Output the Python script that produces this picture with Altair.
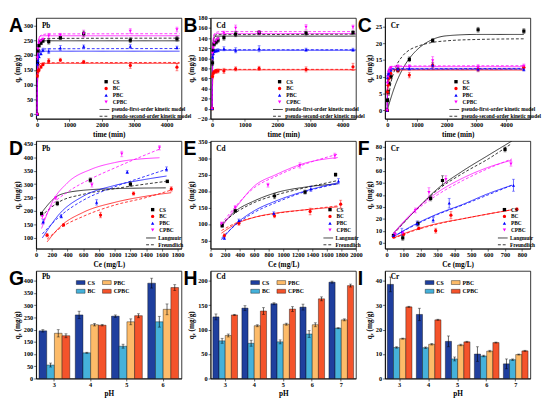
import altair as alt
import pandas as pd

SERIES = ["CS", "BC", "PBC", "CPBC"]
PT_COLORS = ["#000000", "#FF0000", "#0000FF", "#FF00FF"]
PT_SHAPES = ["square", "circle", "triangle-up", "triangle-down"]
BAR_COLORS = ["#1F3F9E", "#45B1DA", "#FDBB69", "#F4532B"]
KIN_MODELS = ["pseudo-first-order kinetic model", "pseudo-second-order kinetic model"]
ISO_MODELS = ["Langmuir", "Freundlich"]

# ---------------- A: Pb kinetics ----------------
T_AB = [0, 10, 30, 60, 120, 180, 360, 720, 1440, 2880, 4320]
A_CS = [0, 175, 215, 232, 240, 248, 245, 258, 272, 250, 255]
A_BC = [0, 130, 145, 150, 160, 168, 180, 183, 177, 165, 159]
A_PBC = [0, 170, 180, 195, 205, 217, 213, 224, 229, 229, 225]
A_CPBC = [0, 190, 220, 240, 248, 253, 265, 267, 272, 281, 286]
A_CS_E = [0, 6, 6, 5, 5, 6, 8, 5, 8, 8, 8]
A_BC_E = [0, 6, 6, 5, 5, 4, 8, 6, 5, 10, 12]
A_PBC_E = [0, 6, 5, 5, 5, 6, 8, 8, 5, 6, 5]
A_CPBC_E = [0, 6, 6, 5, 5, 5, 8, 6, 12, 8, 8]
T_FIT = [0, 15, 40, 80, 150, 300, 4400]
A_CS_F1 = [0, 150, 225, 245, 248, 248, 248]
A_CS_F2 = [0, 170, 235, 250, 254, 256, 257]
A_BC_F1 = [0, 105, 155, 170, 172, 172, 172]
A_BC_F2 = [0, 115, 158, 170, 173, 174, 175]
A_PBC_F1 = [0, 130, 195, 210, 213, 213, 213]
A_PBC_F2 = [0, 145, 200, 214, 219, 221, 222]
A_CPBC_F1 = [0, 165, 240, 262, 265, 265, 265]
A_CPBC_F2 = [0, 175, 245, 263, 268, 271, 272]

# ---------------- B: Cd kinetics ----------------
B_CS = [0, 91, 115, 128, 132, 136, 141, 148, 151, 150, 151]
B_BC = [0, 64, 70, 73, 74, 75, 75, 79, 80, 78, 83]
B_PBC = [0, 103, 110, 114, 115, 116, 119, 116, 119, 117, 117]
B_CPBC = [0, 110, 120, 130, 135, 138, 150, 160, 151, 162, 162]
B_CS_E = [0, 5, 4, 4, 4, 5, 5, 5, 4, 4, 4]
B_BC_E = [0, 3, 3, 3, 4, 4, 5, 4, 4, 5, 7]
B_PBC_E = [0, 4, 3, 3, 3, 3, 4, 5, 6, 3, 3]
B_CPBC_E = [0, 4, 4, 4, 4, 4, 4, 6, 4, 5, 4]
B_CS_F1 = [0, 100, 135, 143, 144, 144, 144]
B_CS_F2 = [0, 105, 138, 145, 147, 147, 148]
B_BC_F1 = [0, 55, 73, 77, 77, 77, 77]
B_BC_F2 = [0, 58, 74, 77, 78, 78, 78]
B_PBC_F1 = [0, 85, 110, 115, 116, 116, 116]
B_PBC_F2 = [0, 90, 112, 116, 117, 117, 117]
B_CPBC_F1 = [0, 105, 140, 148, 149, 149, 149]
B_CPBC_F2 = [0, 110, 143, 150, 152, 153, 153]

# ---------------- C: Cr kinetics ----------------
T_C = [0, 10, 30, 60, 120, 360, 745, 1530, 3060, 4600]
C_CS = [0, 3.0, 5.5, 8.0, 10.0, 12.0, 15.2, 20.8, 24.0, 23.6]
C_BC = [0, 5.5, 7.5, 9.5, 11.0, 12.0, 10.5, 13.5, 12.3, 12.8]
C_PBC = [0, 9.8, 10.5, 11.0, 12.0, 12.3, 12.5, 13.5, 12.3, 12.2]
C_CPBC = [0, 8.0, 10.0, 11.5, 12.5, 13.0, 13.0, 14.8, 12.8, 13.2]
C_CS_E = [0, 0.5, 0.5, 0.5, 0.5, 0.5, 0.7, 0.6, 0.7, 0.7]
C_BC_E = [0, 0.8, 0.8, 0.8, 0.8, 0.8, 0.8, 0.8, 0.8, 0.5]
C_PBC_E = [0, 0.5, 0.5, 0.5, 0.5, 0.5, 0.5, 0.6, 0.6, 0.5]
C_CPBC_E = [0, 0.6, 0.6, 0.6, 0.6, 0.6, 0.6, 1.2, 0.8, 0.6]
T_FIT_C = [0, 15, 40, 80, 150, 300, 4600]
T_FIT_C_CS = [0, 100, 250, 500, 750, 1000, 1500, 2000, 3000, 4600]
C_CS_F1 = [0, 3.0, 7.0, 12.0, 15.5, 18.0, 21.0, 22.2, 22.6, 22.6]
C_CS_F2 = [0, 7.0, 12.0, 16.0, 18.0, 19.0, 20.2, 20.7, 21.1, 21.3]
C_BC_F1 = [0, 6.5, 10.5, 11.8, 12.0, 12.0, 12.0]
C_BC_F2 = [0, 7.0, 10.5, 11.8, 12.1, 12.2, 12.3]
C_PBC_F1 = [0, 9.5, 11.8, 12.2, 12.3, 12.3, 12.3]
C_PBC_F2 = [0, 9.8, 11.8, 12.3, 12.4, 12.4, 12.5]
C_CPBC_F1 = [0, 8.5, 12.0, 12.9, 13.0, 13.0, 13.0]
C_CPBC_F2 = [0, 9.0, 12.0, 12.9, 13.1, 13.2, 13.3]

# ---------------- D: Pb isotherm ----------------
D_CS_X = [70, 270, 690, 1200, 1670]
D_CS = [190, 228, 315, 300, 310]
D_BC_X = [140, 350, 820, 1240, 1720]
D_BC = [110, 148, 185, 265, 282]
D_PBC_X = [90, 320, 770, 1160, 1660]
D_PBC = [160, 180, 232, 345, 356]
D_CPBC_X = [80, 250, 710, 1090, 1570]
D_CPBC = [180, 248, 297, 412, 435]
D_CS_E = [6, 8, 8, 8, 5]
D_BC_E = [6, 4, 10, 6, 8]
D_PBC_E = [8, 6, 10, 5, 8]
D_CPBC_E = [8, 5, 8, 10, 8]
D_CS_FX = [60, 300, 600, 1000, 1650]
D_CS_F1 = [190, 260, 277, 283, 286]
D_CS_F2 = [180, 235, 262, 283, 310]
D_BC_FX = [140, 300, 600, 1000, 1400, 1720]
D_BC_F1 = [85, 140, 195, 232, 255, 268]
D_BC_F2 = [95, 135, 180, 222, 250, 278]
D_PBC_FX = [80, 300, 600, 1000, 1400, 1660]
D_PBC_F1 = [100, 190, 255, 295, 318, 330]
D_PBC_F2 = [115, 180, 240, 290, 330, 355]
D_CPBC_FX = [70, 200, 400, 700, 1000, 1570]
D_CPBC_F1 = [135, 230, 305, 355, 380, 398]
D_CPBC_F2 = [150, 220, 270, 320, 360, 430]

# ---------------- E: Cd isotherm ----------------
E_CS_X = [160, 340, 880, 1300, 1720]
E_CS = [95, 140, 185, 197, 250]
E_BC_X = [190, 390, 880, 1370, 1790]
E_BC = [65, 102, 125, 138, 160]
E_PBC_X = [190, 390, 870, 1380, 1760]
E_PBC = [57, 110, 132, 207, 230]
E_CPBC_X = [150, 340, 790, 1230, 1710]
E_CPBC = [100, 150, 218, 278, 307]
E_CS_E = [5, 5, 8, 6, 5]
E_BC_E = [5, 6, 6, 10, 12]
E_PBC_E = [4, 5, 5, 8, 8]
E_CPBC_E = [6, 6, 6, 8, 8]
E_FX = [150, 350, 600, 900, 1300, 1750]
E_CS_F1 = [95, 140, 170, 195, 212, 222]
E_CS_F2 = [100, 135, 165, 188, 210, 232]
E_BC_F1 = [72, 100, 120, 133, 143, 152]
E_BC_F2 = [80, 103, 120, 132, 143, 155]
E_PBC_F1 = [52, 100, 140, 170, 200, 225]
E_PBC_F2 = [57, 98, 135, 165, 198, 222]
E_CPBC_F1 = [90, 150, 215, 250, 285, 302]
E_CPBC_F2 = [100, 155, 210, 245, 282, 312]

# ---------------- F: Cr isotherm ----------------
F_CS_X = [40, 95, 185, 260, 330, 700]
F_CS = [6, 4, 16, 37, 52, 78]
F_BC_X = [40, 100, 190, 290, 380, 770]
F_BC = [5, 7, 12, 10, 23, 28]
F_PBC_X = [40, 90, 180, 275, 370, 750]
F_PBC = [6, 9, 16, 19, 33, 48]
F_CPBC_X = [50, 95, 170, 250, 350, 735]
F_CPBC = [7, 8, 27, 42, 53, 66]
F_CS_E = [1, 2, 2, 2, 4, 2]
F_BC_E = [1, 1, 1, 2, 3, 1]
F_PBC_E = [1, 3, 2, 2, 4, 5]
F_CPBC_E = [1, 1, 2, 4, 3, 2]
F_FX = [40, 150, 300, 450, 600, 740]
F_CS_F1 = [8, 24, 45, 60, 73, 85]
F_CS_F2 = [7, 24, 44, 58, 70, 83]
F_BC_F1 = [4, 10, 16, 20, 24, 27.5]
F_BC_F2 = [3.5, 9.5, 15.5, 20, 24, 27.5]
F_PBC_F1 = [5, 14, 24, 32, 41, 48]
F_PBC_F2 = [5, 13.5, 23.5, 31.5, 40, 48]
F_CPBC_F1 = [8, 25, 42, 54, 63, 69]
F_CPBC_F2 = [7, 24, 40, 52, 62, 70]

# ---------------- G/H/I: pH bars ----------------
G_PH = [3, 4, 5, 6]
G_CS = [195, 260, 255, 390]
G_BC = [55, 105, 132, 232]
G_PBC = [185, 220, 232, 283]
G_CPBC = [175, 218, 257, 372]
G_CS_E = [5, 15, 5, 20]
G_BC_E = [8, 2, 8, 22]
G_PBC_E = [15, 5, 12, 22]
G_CPBC_E = [8, 3, 8, 12]

H_PH = [3, 4, 5, 6, 7]
H_CS = [126, 144, 153, 146, 197]
H_BC = [77, 72, 75, 91, 103]
H_PBC = [88, 108, 111, 110, 120]
H_CPBC = [130, 138, 142, 163, 190]
H_CS_E = [6, 5, 2, 6, 2]
H_BC_E = [5, 6, 4, 7, 1]
H_PBC_E = [3, 2, 2, 4, 2]
H_CPBC_E = [1, 7, 5, 4, 3]

I_PH = [3, 4, 5, 6, 7]
I_CS = [38.5, 26.2, 15.2, 10.0, 6.0]
I_BC = [12.7, 12.6, 8.0, 9.2, 7.7]
I_PBC = [16.3, 14.0, 13.7, 11.2, 9.8]
I_CPBC = [29.3, 24.0, 15.0, 14.7, 11.3]
I_CS_E = [3.0, 2.5, 2.2, 3.0, 2.0]
I_BC_E = [0.3, 0.3, 0.8, 0.3, 0.3]
I_PBC_E = [0.2, 0.3, 0.3, 0.3, 0.2]
I_CPBC_E = [0.2, 0.2, 0.2, 0.2, 0.2]

SERIF = "Liberation Serif"
SANS = "Liberation Sans"
W = 150
H1, H2, H3 = 104, 111, 111
YTITLE = "qₑ (mg/g)"


def pts_frame(xlists, ylists, elists):
    rows = []
    for s, xs, ys, es in zip(SERIES, xlists, ylists, elists):
        for x, y, e in zip(xs, ys, es):
            rows.append({"x": x, "y": y, "lo": y - e, "hi": y + e, "series": s})
    return pd.DataFrame(rows)


def fit_frame(models, entries):
    rows = []
    for s, xs, y1, y2 in entries:
        for m, ys in zip(models, [y1, y2]):
            for x, y in zip(xs, ys):
                rows.append({"x": x, "y": y, "series": s, "model": m})
    return pd.DataFrame(rows)


def text_layers(letter, metal, metal_y):
    lt = alt.Chart(pd.DataFrame({"t": [letter]})).mark_text(
        font=SANS, fontWeight="bold", fontSize=20, align="left", baseline="top"
    ).encode(text="t:N", x=alt.value(-28), y=alt.value(-2))
    mt = alt.Chart(pd.DataFrame({"t": [metal]})).mark_text(
        font=SERIF, fontWeight="bold", fontSize=7.5, align="left", baseline="middle"
    ).encode(text="t:N", x=alt.value(6), y=alt.value(metal_y))
    return [lt, mt]


def line_panel(letter, metal, pts, fits, xdom, xticks, ydom, yticks, xtitle, models, h,
               lab_x, pts_up, dash_up, dash_pad):
    xsc = alt.Scale(domain=xdom, nice=False, zero=False)
    ysc = alt.Scale(domain=ydom, nice=False, zero=False)
    xax = alt.Axis(values=xticks, title=xtitle, format="d")
    yax = alt.Axis(values=yticks, title=YTITLE, format="d")

    def X(f):
        return alt.X(f, type="quantitative", scale=xsc, axis=xax)

    def Y(f):
        return alt.Y(f, type="quantitative", scale=ysc, axis=yax)

    # stroke scale lists the series in reverse so that its (hidden) legend is not merged with the point legend
    stroke = alt.Stroke("series:N", scale=alt.Scale(domain=SERIES[::-1], range=PT_COLORS[::-1]), legend=None)
    leg_pts = alt.Legend(title=None, orient="none", legendX=lab_x - 7.5, legendY=h - pts_up,
                         labelFontSize=5.5, symbolSize=12, rowPadding=0, padding=0,
                         labelOffset=4, symbolStrokeWidth=0)
    leg_dash = alt.Legend(title=None, orient="none", legendX=lab_x - 9.5, legendY=h - dash_up,
                          labelFontSize=5.5, symbolType="M-2,0H2", symbolSize=25,
                          symbolStrokeColor="black", symbolStrokeWidth=0.8, rowPadding=dash_pad,
                          padding=0, labelOffset=4.5)
    lines = alt.Chart(fits).mark_line(strokeWidth=0.8, interpolate="monotone", clip=True).encode(
        x=X("x"), y=Y("y"), stroke=stroke,
        strokeDash=alt.StrokeDash("model:N", scale=alt.Scale(domain=models, range=[[1, 0], [3, 2]]),
                                  legend=leg_dash),
        detail="series:N",
    )
    base = alt.Chart(pts)
    rules = base.mark_rule(strokeWidth=0.6, clip=True).encode(x=X("x"), y=Y("lo"), y2="hi:Q", stroke=stroke)
    cap_lo = base.mark_point(shape="stroke", size=9, strokeWidth=0.6, clip=True).encode(
        x=X("x"), y=Y("lo"), stroke=stroke)
    cap_hi = base.mark_point(shape="stroke", size=9, strokeWidth=0.6, clip=True).encode(
        x=X("x"), y=Y("hi"), stroke=stroke)
    points = base.mark_point(filled=True, size=11, opacity=1, clip=True).encode(
        x=X("x"), y=Y("y"),
        color=alt.Color("series:N", scale=alt.Scale(domain=SERIES, range=PT_COLORS), legend=leg_pts),
        shape=alt.Shape("series:N", scale=alt.Scale(domain=SERIES, range=PT_SHAPES), legend=leg_pts),
    )
    return alt.layer(lines, rules, cap_lo, cap_hi, points, *text_layers(letter, metal, 8)).properties(
        width=W, height=h)


def bar_panel(letter, metal, phs, vals, errs, ydom, yticks, h):
    rows = []
    for s, vs, es in zip(SERIES, vals, errs):
        for p, v, e in zip(phs, vs, es):
            rows.append({"pH": p, "sample": s, "q": v, "lo": v - e, "hi": v + e})
    df = pd.DataFrame(rows)
    xenc = alt.X("pH:O", scale=alt.Scale(paddingInner=0.15, paddingOuter=0.08),
                 axis=alt.Axis(title="pH", labelAngle=0))
    xo = alt.XOffset("sample:N", scale=alt.Scale(domain=SERIES, paddingInner=0, paddingOuter=0))
    ysc = alt.Scale(domain=ydom, nice=False, zero=True)
    yax = alt.Axis(values=yticks, title=YTITLE, format="d")
    leg = alt.Legend(title=None, orient="none", legendX=41, legendY=7, columns=2,
                     symbolType="M-1,-0.45H1V0.45H-1Z", symbolSize=81, symbolStrokeColor="black",
                     symbolStrokeWidth=0.4, labelFontSize=6, columnPadding=5, rowPadding=1,
                     padding=0, labelOffset=2)
    base = alt.Chart(df)
    bars = base.mark_bar(stroke="black", strokeWidth=0.4).encode(
        x=xenc, xOffset=xo, y=alt.Y("q:Q", scale=ysc, axis=yax),
        color=alt.Color("sample:N", scale=alt.Scale(domain=SERIES, range=BAR_COLORS), legend=leg),
    )
    rules = base.mark_rule(color="black", strokeWidth=0.6).encode(
        x=xenc, xOffset=xo, y=alt.Y("lo:Q", scale=ysc, axis=yax), y2="hi:Q")
    cap_lo = base.mark_point(shape="stroke", size=9, strokeWidth=0.6, color="black").encode(
        x=xenc, xOffset=xo, y=alt.Y("lo:Q", scale=ysc, axis=yax))
    cap_hi = base.mark_point(shape="stroke", size=9, strokeWidth=0.6, color="black").encode(
        x=xenc, xOffset=xo, y=alt.Y("hi:Q", scale=ysc, axis=yax))
    return alt.layer(bars, rules, cap_lo, cap_hi, *text_layers(letter, metal, 6)).properties(
        width=W, height=h)


KIN_LEG = dict(pts_up=41, dash_up=12.6, dash_pad=0)
ISO_LEG = dict(pts_up=43, dash_up=14, dash_pad=0)

pA = line_panel("A", "Pb",
                pts_frame([T_AB] * 4, [A_CS, A_BC, A_PBC, A_CPBC], [A_CS_E, A_BC_E, A_PBC_E, A_CPBC_E]),
                fit_frame(KIN_MODELS, [("CS", T_FIT, A_CS_F1, A_CS_F2), ("BC", T_FIT, A_BC_F1, A_BC_F2),
                                       ("PBC", T_FIT, A_PBC_F1, A_PBC_F2), ("CPBC", T_FIT, A_CPBC_F1, A_CPBC_F2)]),
                [-30, 4460], [0, 1000, 2000, 3000, 4000], [-15, 325], list(range(0, 301, 50)),
                "time (min)", KIN_MODELS, H1, 77, **KIN_LEG)
pB = line_panel("B", "Cd",
                pts_frame([T_AB] * 4, [B_CS, B_BC, B_PBC, B_CPBC], [B_CS_E, B_BC_E, B_PBC_E, B_CPBC_E]),
                fit_frame(KIN_MODELS, [("CS", T_FIT, B_CS_F1, B_CS_F2), ("BC", T_FIT, B_BC_F1, B_BC_F2),
                                       ("PBC", T_FIT, B_PBC_F1, B_PBC_F2), ("CPBC", T_FIT, B_CPBC_F1, B_CPBC_F2)]),
                [-50, 4410], [0, 1000, 2000, 3000, 4000], [-20, 180], list(range(-20, 181, 20)),
                "time (min)", KIN_MODELS, H1, 76, **KIN_LEG)
pC = line_panel("C", "Cr",
                pts_frame([T_C] * 4, [C_CS, C_BC, C_PBC, C_CPBC], [C_CS_E, C_BC_E, C_PBC_E, C_CPBC_E]),
                fit_frame(KIN_MODELS, [("CS", T_FIT_C_CS, C_CS_F1, C_CS_F2), ("BC", T_FIT_C, C_BC_F1, C_BC_F2),
                                       ("PBC", T_FIT_C, C_PBC_F1, C_PBC_F2), ("CPBC", T_FIT_C, C_CPBC_F1, C_CPBC_F2)]),
                [-75, 4820], [0, 1000, 2000, 3000, 4000], [-2.5, 27.5], list(range(0, 26, 5)),
                "time (min)", KIN_MODELS, H1, 78, **KIN_LEG)
pD = line_panel("D", "Pb",
                pts_frame([D_CS_X, D_BC_X, D_PBC_X, D_CPBC_X], [D_CS, D_BC, D_PBC, D_CPBC],
                          [D_CS_E, D_BC_E, D_PBC_E, D_CPBC_E]),
                fit_frame(ISO_MODELS, [("CS", D_CS_FX, D_CS_F1, D_CS_F2), ("BC", D_BC_FX, D_BC_F1, D_BC_F2),
                                       ("PBC", D_PBC_FX, D_PBC_F1, D_PBC_F2), ("CPBC", D_CPBC_FX, D_CPBC_F1, D_CPBC_F2)]),
                [0, 1850], list(range(0, 1801, 200)), [60, 460], list(range(100, 451, 50)),
                "Ce (mg/L)", ISO_MODELS, H2, 125, **ISO_LEG)
pE = line_panel("E", "Cd",
                pts_frame([E_CS_X, E_BC_X, E_PBC_X, E_CPBC_X], [E_CS, E_BC, E_PBC, E_CPBC],
                          [E_CS_E, E_BC_E, E_PBC_E, E_CPBC_E]),
                fit_frame(ISO_MODELS, [("CS", E_FX, E_CS_F1, E_CS_F2), ("BC", E_FX, E_BC_F1, E_BC_F2),
                                       ("PBC", E_FX, E_PBC_F1, E_PBC_F2), ("CPBC", E_FX, E_CPBC_F1, E_CPBC_F2)]),
                [0, 2000], list(range(0, 2001, 200)), [25, 352], list(range(50, 351, 50)),
                "Ce (mg/L)", ISO_MODELS, H2, 128, **ISO_LEG)
pF = line_panel("F", "Cr",
                pts_frame([F_CS_X, F_BC_X, F_PBC_X, F_CPBC_X], [F_CS, F_BC, F_PBC, F_CPBC],
                          [F_CS_E, F_BC_E, F_PBC_E, F_CPBC_E]),
                fit_frame(ISO_MODELS, [("CS", F_FX, F_CS_F1, F_CS_F2), ("BC", F_FX, F_BC_F1, F_BC_F2),
                                       ("PBC", F_FX, F_PBC_F1, F_PBC_F2), ("CPBC", F_FX, F_CPBC_F1, F_CPBC_F2)]),
                [-10, 850], list(range(0, 801, 100)), [-5, 85], list(range(0, 81, 10)),
                "Ce (mg/L)", ISO_MODELS, H2, 128, **ISO_LEG)
pG = bar_panel("G", "Pb", G_PH, [G_CS, G_BC, G_PBC, G_CPBC], [G_CS_E, G_BC_E, G_PBC_E, G_CPBC_E],
               [0, 440], list(range(0, 401, 50)), H3)
pH = bar_panel("H", "Cd", H_PH, [H_CS, H_BC, H_PBC, H_CPBC], [H_CS_E, H_BC_E, H_PBC_E, H_CPBC_E],
               [0, 220], list(range(0, 201, 50)), H3)
pI = bar_panel("I", "Cr", I_PH, [I_CS, I_BC, I_PBC, I_CPBC], [I_CS_E, I_BC_E, I_PBC_E, I_CPBC_E],
               [0, 44], list(range(0, 41, 10)), H3)

RES = dict(color="independent", shape="independent", stroke="independent", strokeDash="independent",
           x="independent", y="independent", xOffset="independent")

chart = alt.concat(pA, pB, pC, pD, pE, pF, pG, pH, pI, columns=3,
                   spacing=alt.RowColnumber(row=23, column=30), bounds="flush").resolve_scale(
    **RES).properties(padding=0).configure_view(stroke="black", strokeWidth=0.8).configure_axis(
    grid=False, domainColor="black", domainWidth=0.8, tickColor="black", tickWidth=0.6, tickSize=2.5,
    labelFont=SERIF, labelFontWeight="bold", labelFontSize=6.5, labelColor="black", labelPadding=1,
    titleFont=SERIF, titleFontWeight="bold", titleFontSize=7.5, titleColor="black", titlePadding=2,
    labelFlush=False,
).configure_legend(labelFont=SERIF, labelFontWeight="bold", labelColor="black")

chart.save("out.html", embed_options={"renderer": "svg", "actions": False})
